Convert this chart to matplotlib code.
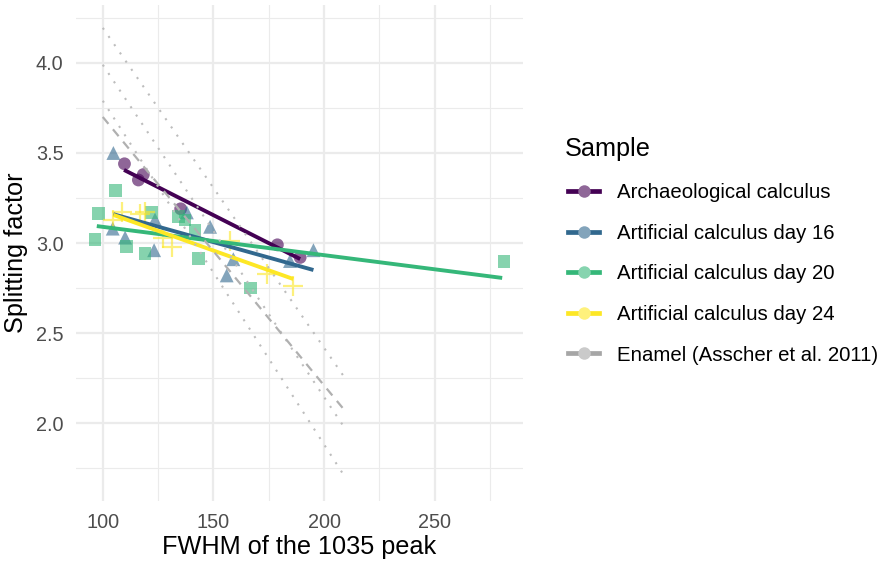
import matplotlib
matplotlib.use("Agg")
import matplotlib.pyplot as plt
import numpy as np
from matplotlib.colors import to_rgba
from matplotlib.lines import Line2D

plt.rcParams.update({
    "font.family": ["Liberation Sans", "DejaVu Sans"],
    "axes.unicode_minus": False,
})

# ---- data ------------------------------------------------------------------
SAMPLES = ["Archaeological calculus", "Artificial calculus day 16",
           "Artificial calculus day 20", "Artificial calculus day 24",
           "Enamel (Asscher et al. 2011)"]
COLORS = ["#440154", "#31688E", "#35B779", "#FDE725", "#A6A6A6"]
MARKERS = ["o", "^", "s", "+"]

arch_x = [109.8, 116.1, 118.3, 135.2, 178.9, 189.2]
arch_y = [3.44, 3.35, 3.38, 3.19, 2.99, 2.92]

d16_x = [104.8, 104.5, 110.1, 123.6, 123.2, 138.0, 148.5, 156.0, 159.0, 184.6, 195.2]
d16_y = [3.50, 3.08, 3.03, 3.13, 2.96, 3.17, 3.09, 2.82, 2.91, 2.90, 2.96]

d20_x = [96.5, 98.0, 105.6, 110.8, 119.1, 122.1, 134.2, 137.2, 141.7, 143.2, 166.6, 281.3]
d20_y = [3.02, 3.165, 3.29, 2.98, 2.94, 3.17, 3.146, 3.128, 3.07, 2.915, 2.75, 2.896]

d24_x = [104.8, 108.6, 116.9, 119.1, 127.4, 131.2, 157.5, 174.1, 186.1]
d24_y = [3.13, 3.17, 3.16, 3.17, 3.03, 2.98, 3.01, 2.83, 2.76]

# linear fits (start / end of each fitted line)
fit_x = [[109.6, 189.2], [104.8, 195.2], [97.3, 280.5], [104.8, 186.1]]
fit_y = [[3.406, 2.911], [3.16, 2.85], [3.094, 2.806], [3.156, 2.80]]

# enamel reference line and its intervals
enamel_x = [100, 210]
enamel_fit = [3.70, 2.06]
enamel_bands = [[4.195, 2.24], [3.99, 1.96], [3.79, 1.69]]

xs = [arch_x, d16_x, d20_x, d24_x]
ys = [arch_y, d16_y, d20_y, d24_y]


def lighten(c, a=0.6):
    r, g, b, _ = to_rgba(c)
    return (1 - a + a * r, 1 - a + a * g, 1 - a + a * b)


fig = plt.figure(figsize=(8.83, 5.61), dpi=100)
ax = fig.add_axes([76 / 883, 1 - 501 / 561, (523 - 76) / 883, (501 - 5) / 561])

for x, y, c, m in zip(xs, ys, COLORS, MARKERS):
    if m == "+":
        ax.scatter(x, y, marker=m, s=190, color=c, alpha=0.6, linewidths=1.6,
                   zorder=3)
    elif m == "^":
        ax.scatter(x, y, marker=m, s=100, color=c, alpha=0.6, edgecolor="none",
                   zorder=3)
    else:
        ax.scatter(x, y, marker=m, s=85, color=c, alpha=0.6, edgecolor="none",
                   zorder=3)

for fx, fy, c in zip(fit_x, fit_y, COLORS):
    ax.plot(fx, fy, color=c, lw=2.8, solid_capstyle="butt", zorder=4)

for band in enamel_bands:
    ax.plot(enamel_x, band, color="#BDBDBD", lw=1.5, ls=(0, (1, 3.8)),
            zorder=5)
ax.plot(enamel_x, enamel_fit, color="#B0B0B0", lw=1.6, ls=(0, (4, 3.2)),
        zorder=5)

ax.set_xlim(87.9, 289.9)
ax.set_ylim(1.567, 4.322)
ax.set_xticks([100, 150, 200, 250])
ax.set_xticks([125, 175, 225, 275], minor=True)
ax.set_yticks([2.0, 2.5, 3.0, 3.5, 4.0])
ax.set_yticks(np.arange(1.75, 4.3, 0.5), minor=True)
ax.set_yticklabels(["2.0", "2.5", "3.0", "3.5", "4.0"])
ax.grid(which="major", color="#EBEBEB", lw=1.6)
ax.grid(which="minor", color="#EBEBEB", lw=0.8)
ax.set_axisbelow(True)
for s in ax.spines.values():
    s.set_visible(False)
ax.tick_params(which="both", length=0, labelsize=14.3, labelcolor="#4D4D4D",
               pad=9)
ax.set_xlabel("FWHM of the 1035 peak", fontsize=18.2, labelpad=2)
ax.set_ylabel("Splitting factor", fontsize=18.2, labelpad=6)

handles = []
for c in COLORS:
    handles.append(Line2D([0], [0], color=c, lw=3.4, marker="o", markersize=9,
                          markerfacecolor=lighten(c), markeredgecolor="none"))
leg = fig.legend(handles, SAMPLES, loc="upper left",
                 bbox_to_anchor=(550 / 883, 1 - 119 / 561), frameon=False,
                 fontsize=14.7, title="Sample", title_fontsize=18.2,
                 handlelength=1.5, handletextpad=0.9, labelspacing=1.06,
                 alignment="left")
leg.get_title().set_position((-4, 0))

fig.savefig("out.png", dpi=100)
